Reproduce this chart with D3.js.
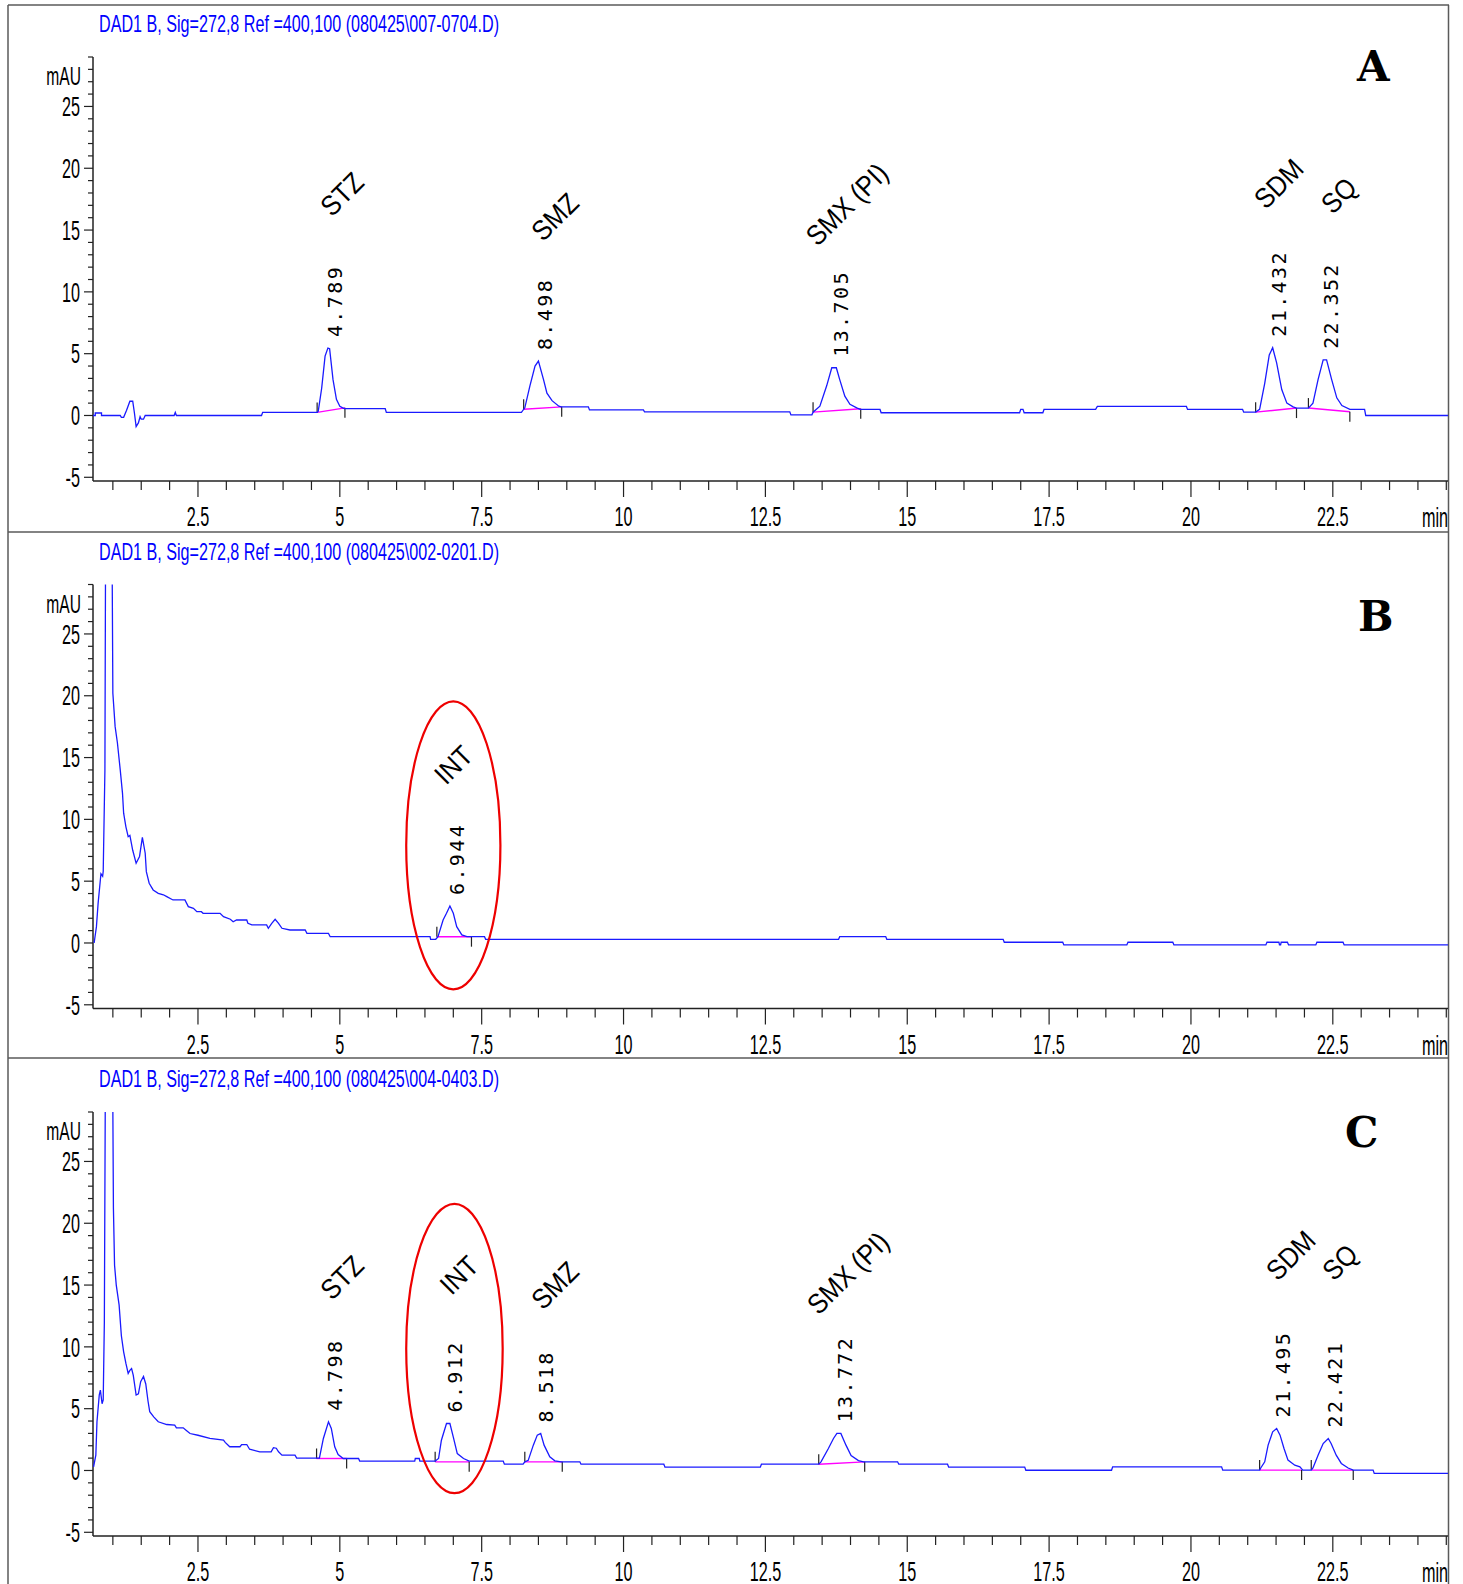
<!DOCTYPE html>
<html>
<head>
<meta charset="utf-8">
<script src="https://cdn.jsdelivr.net/npm/d3@7"></script>
<style>
  body { margin: 0; background: #fff; }
  svg { display: block; }
</style>
</head>
<body>
<div id="chart"></div>
<script>
// ---- data (time in min, signal in mAU) ----
const titles = [
    "DAD1 B, Sig=272,8 Ref =400,100 (080425\\007-0704.D)",
    "DAD1 B, Sig=272,8 Ref =400,100 (080425\\002-0201.D)",
    "DAD1 B, Sig=272,8 Ref =400,100 (080425\\004-0403.D)"
];
const panelLetters = ["A", "B", "C"];
const xTickValues = [2.5, 5, 7.5, 10, 12.5, 15, 17.5, 20, 22.5];
const yTickValues = [-5, 0, 5, 10, 15, 20, 25];

const traceA = [
    [0.65,0],[0.69,0],[0.69,0.2],[0.80,0.2],[0.80,0],[1.13,0],[1.15,-0.15],[1.19,-0.15],[1.24,0.4],
    [1.30,1.15],[1.35,1.15],[1.38,0.2],[1.41,-0.9],[1.45,-0.6],[1.48,-0.1],[1.50,-0.3],[1.54,-0.3],
    [1.57,0],[2.08,0],[2.10,0.25],[2.12,0],[3.62,0],[3.64,0.25],[4.60,0.25],[4.62,0.35],[4.68,2.2],
    [4.74,4.8],[4.79,5.45],[4.82,5.4],[4.88,2.9],[4.94,1.3],[5.00,0.75],[5.05,0.62],[5.08,0.55],
    [5.80,0.55],[5.82,0.25],[8.20,0.25],[8.26,0.62],[8.35,2.4],[8.44,4.0],[8.50,4.4],[8.59,2.9],
    [8.65,1.8],[8.74,1.2],[8.86,0.75],[8.90,0.7],[9.38,0.7],[9.40,0.45],[10.35,0.45],[10.37,0.3],
    [12.93,0.3],[12.95,0.05],[13.32,0.05],[13.34,0.27],[13.46,0.75],[13.58,2.4],[13.67,3.86],
    [13.75,3.86],[13.81,2.9],[13.90,1.56],[13.99,0.9],[14.11,0.62],[14.17,0.49],[14.52,0.49],
    [14.54,0.22],[16.98,0.22],[17.00,0.5],[17.04,0.5],[17.06,0.22],[17.39,0.22],[17.41,0.49],
    [18.32,0.49],[18.35,0.73],[19.92,0.73],[19.94,0.49],[20.91,0.49],[20.93,0.27],[21.14,0.27],
    [21.21,0.5],[21.30,2.6],[21.38,4.9],[21.44,5.48],[21.51,4.26],[21.60,2.1],[21.69,1.0],
    [21.80,0.7],[21.86,0.6],[22.07,0.6],[22.15,1.0],[22.24,2.9],[22.33,4.5],[22.39,4.5],
    [22.48,2.9],[22.57,1.43],[22.66,0.8],[22.80,0.49],[23.06,0.49],[23.08,0],[24.53,0]
];
const traceB = [
    [0.67,0],[0.71,1.3],[0.74,3.2],[0.79,5.6],[0.82,5.4],[0.83,5.8],[0.86,14],[0.88,45],[0.97,45],
    [1.00,20.2],[1.04,17.5],[1.08,16.2],[1.13,14.0],[1.17,12.1],[1.19,10.5],[1.23,9.4],[1.27,8.6],
    [1.30,8.7],[1.35,7.5],[1.41,6.45],[1.47,7.0],[1.52,8.55],[1.57,7.26],[1.59,5.77],[1.64,4.83],
    [1.71,4.29],[1.80,4.02],[1.89,3.9],[1.95,3.75],[2.06,3.48],[2.27,3.48],[2.33,2.94],[2.42,2.8],
    [2.48,2.53],[2.56,2.53],[2.59,2.4],[2.89,2.4],[2.95,2.13],[3.07,1.92],[3.12,1.72],[3.18,1.86],
    [3.36,1.86],[3.38,1.59],[3.45,1.46],[3.71,1.46],[3.74,1.19],[3.80,1.59],[3.86,1.92],[3.92,1.59],
    [3.98,1.19],[4.12,1.05],[4.39,1.05],[4.42,0.78],[4.80,0.78],[4.83,0.51],[6.59,0.51],[6.60,0.3],
    [6.69,0.3],[6.73,0.51],[6.82,1.86],[6.88,2.4],[6.94,2.99],[7.00,2.4],[7.06,1.32],[7.15,0.65],
    [7.24,0.51],[7.55,0.51],[7.57,0.3],[13.79,0.3],[13.81,0.52],[14.62,0.52],[14.64,0.3],
    [16.69,0.3],[16.71,0.06],[17.74,0.06],[17.76,-0.16],[18.87,-0.16],[18.89,0.06],[19.68,0.06],
    [19.70,-0.16],[21.32,-0.16],[21.34,0.06],[21.55,0.06],[21.56,-0.16],[21.58,-0.16],[21.59,0.06],
    [21.70,0.06],[21.72,-0.16],[22.20,-0.16],[22.22,0.06],[22.68,0.06],[22.70,-0.16],[24.53,-0.16]
];
const traceC = [
    [0.66,0.3],[0.70,1.24],[0.72,3.94],[0.76,6.1],[0.78,6.5],[0.81,5.4],[0.83,5.7],[0.85,12],
    [0.88,45],[0.98,45],[1.01,21.2],[1.03,16.6],[1.06,15.0],[1.11,13.4],[1.15,10.9],[1.19,9.6],
    [1.23,8.66],[1.27,7.85],[1.30,8.1],[1.33,8.25],[1.36,7.7],[1.41,6.1],[1.45,6.2],[1.49,7.18],
    [1.54,7.6],[1.58,7.0],[1.62,5.6],[1.65,4.75],[1.72,4.34],[1.80,3.94],[1.95,3.72],[2.09,3.67],
    [2.12,3.45],[2.24,3.45],[2.29,3.26],[2.36,2.99],[2.50,2.85],[2.71,2.59],[2.95,2.45],[2.98,2.27],
    [3.06,1.92],[3.24,1.92],[3.27,2.1],[3.36,2.1],[3.41,1.72],[3.59,1.51],[3.79,1.51],[3.83,1.85],
    [3.88,1.8],[3.92,1.51],[3.98,1.24],[4.21,1.24],[4.24,1.0],[4.64,1.0],[4.71,2.59],[4.80,3.94],
    [4.85,3.4],[4.91,1.92],[4.97,1.29],[5.06,0.97],[5.33,0.97],[5.35,0.76],[6.32,0.76],[6.33,0.97],
    [6.40,0.97],[6.41,0.76],[6.68,0.76],[6.74,0.97],[6.79,2.45],[6.88,3.8],[6.94,3.8],[7.00,2.7],
    [7.07,1.37],[7.18,0.97],[7.28,0.76],[7.88,0.76],[7.90,0.51],[8.23,0.51],[8.26,0.7],[8.32,0.82],
    [8.41,2.05],[8.48,2.86],[8.54,3.0],[8.60,2.05],[8.70,1.1],[8.79,0.78],[8.90,0.7],[9.23,0.7],
    [9.25,0.51],[10.71,0.51],[10.73,0.27],[12.41,0.27],[12.43,0.51],[13.44,0.51],[13.48,0.7],
    [13.61,1.78],[13.70,2.59],[13.76,3.0],[13.83,3.0],[13.92,2.05],[14.01,1.2],[14.14,0.8],
    [14.23,0.7],[14.83,0.7],[14.85,0.51],[15.71,0.51],[15.73,0.27],[17.07,0.27],[17.09,0.02],
    [18.60,0.02],[18.62,0.3],[20.54,0.3],[20.56,0.03],[21.21,0.03],[21.23,0.2],[21.30,0.7],
    [21.36,2.05],[21.44,3.13],[21.51,3.4],[21.57,2.86],[21.64,1.78],[21.71,0.84],[21.83,0.43],
    [21.92,0.3],[21.97,0.03],[22.12,0.03],[22.15,0.2],[22.24,1.24],[22.33,2.18],[22.42,2.59],
    [22.47,2.18],[22.56,1.24],[22.65,0.57],[22.77,0.2],[22.86,0.03],[23.21,0.03],[23.23,-0.24],
    [24.53,-0.24]
];

// compound names, retention times, apex heights, name anchors [min, mAU], integration [t0,v0,t1,v1]
const namesA = ["STZ", "SMZ", "SMX (PI)", "SDM", "SQ"];
const rtA = ["4.789", "8.498", "13.705", "21.432", "22.352"];
const apexA = [5.45, 4.4, 3.86, 5.48, 4.5];
const nameAtA = [[4.86, 16.0], [8.58, 14.0], [13.42, 13.6], [21.32, 16.6], [22.50, 16.2]];
const integA = [[4.60,0.25,5.09,0.62],[8.24,0.5,8.91,0.7],[13.34,0.27,14.18,0.55],[21.14,0.27,21.86,0.6],[22.07,0.6,22.80,0.3]];

const namesB = ["INT"];
const rtB = ["6.944"];
const apexB = [2.99];
const nameAtB = [[6.87, 12.7]];
const integB = [[6.71,0.51,7.32,0.51]];

const namesC = ["STZ", "INT", "SMZ", "SMX (PI)", "SDM", "SQ"];
const rtC = ["4.798", "6.912", "8.518", "13.772", "21.495", "22.421"];
const apexC = [3.94, 3.8, 3.0, 3.0, 3.4, 2.59];
const nameAtC = [[4.86, 13.7], [6.97, 14.1], [8.58, 12.9], [13.44, 12.5], [21.53, 15.25], [22.52, 15.25]];
const integC = [[4.59,0.97,5.12,0.97],[6.68,0.7,7.28,0.7],[8.26,0.7,8.92,0.7],[13.44,0.51,14.25,0.7],[21.21,0.03,21.95,0.03],[22.12,0.03,22.86,0.03]];

// circled peak: [centre min, centre mAU, radius min, radius mAU]
const ellipseB = [7.0, 7.9, 0.83, 11.65];
const ellipseC = [7.02, 9.87, 0.85, 11.7];

// ---- drawing ----
const W = 1463, H = 1584;
const panelStep = 527.5;
const svg = d3.select("#chart").append("svg")
    .attr("width", W).attr("height", H);
svg.append("rect").attr("width", W).attr("height", H).attr("fill", "#fff");

const x = d3.scaleLinear().domain([0.65, 24.53]).range([93, 1448]);

const panels = [
    { trace: traceA, names: namesA, rt: rtA, apex: apexA, nameAt: nameAtA, integ: integA, ellipse: null, letterPos: [1357, 81] },
    { trace: traceB, names: namesB, rt: rtB, apex: apexB, nameAt: nameAtB, integ: integB, ellipse: ellipseB, letterPos: [1358, 631] },
    { trace: traceC, names: namesC, rt: rtC, apex: apexC, nameAt: nameAtC, integ: integC, ellipse: ellipseC, letterPos: [1345, 1147] }
];

const narrow = "'Liberation Sans', Arial, sans-serif";

// outer frame and separators
const frame = svg.append("g").attr("stroke", "#5a5a5a").attr("stroke-width", 1.5);
frame.append("line").attr("x1", 8).attr("x2", 8).attr("y1", 5).attr("y2", H);
frame.append("line").attr("x1", 1448.5).attr("x2", 1448.5).attr("y1", 5).attr("y2", H);
[5, 532, 1058].forEach(yy => {
    frame.append("line").attr("x1", 8).attr("x2", 1449).attr("y1", yy).attr("y2", yy);
});

panels.forEach((p, i) => {
    const off = i * panelStep;
    const y = d3.scaleLinear().domain([-5.3, 29]).range([481 + off, 57 + off]);
    const g = svg.append("g");

    // title
    g.append("text")
        .attr("x", 99).attr("y", 32 + off)
        .attr("textLength", 400).attr("lengthAdjust", "spacingAndGlyphs")
        .style("font-family", narrow).style("font-size", "24px")
        .attr("fill", "#0000ff")
        .text(titles[i]);

    // panel letter
    g.append("text")
        .attr("x", p.letterPos[0]).attr("y", p.letterPos[1])
        .style("font-family", "'DejaVu Serif', serif").style("font-weight", "bold")
        .style("font-size", "42px")
        .text(panelLetters[i]);

    // y axis
    const yMinor = d3.range(-5, 30, 1);
    g.append("line").attr("x1", 93).attr("x2", 93)
        .attr("y1", y(29)).attr("y2", y(-5.3))
        .attr("stroke", "#222").attr("stroke-width", 1.5);
    g.selectAll(".ytick").data(yMinor).enter().append("line")
        .attr("x1", d => yTickValues.includes(d) ? 84 : 88).attr("x2", 93)
        .attr("y1", d => y(d)).attr("y2", d => y(d))
        .attr("stroke", "#222").attr("stroke-width", 1.2);
    g.selectAll(".ylab").data(yTickValues).enter().append("text")
        .attr("transform", d => `translate(80,${y(d)}) scale(0.6,1)`)
        .attr("dy", "0.36em")
        .attr("text-anchor", "end")
        .style("font-family", narrow).style("font-size", "27px")
        .text(d => d);
    g.append("text")
        .attr("transform", `translate(81,${85 + off}) scale(0.6,1)`)
        .attr("text-anchor", "end")
        .style("font-family", narrow).style("font-size", "26px")
        .text("mAU");

    // x axis
    const xMinor = d3.range(1, 24.51, 0.5);
    const axisY = y(-5.3);
    g.append("line").attr("x1", 93).attr("x2", 1448)
        .attr("y1", axisY).attr("y2", axisY)
        .attr("stroke", "#222").attr("stroke-width", 1.5);
    g.selectAll(".xtick").data(xMinor).enter().append("line")
        .attr("x1", d => x(d)).attr("x2", d => x(d))
        .attr("y1", axisY).attr("y2", d => axisY + (xTickValues.includes(d) ? 16 : 9))
        .attr("stroke", "#222").attr("stroke-width", 1.2);
    g.selectAll(".xlab").data(xTickValues).enter().append("text")
        .attr("transform", d => `translate(${x(d)},${axisY + 45}) scale(0.6,1)`)
        .attr("text-anchor", "middle")
        .style("font-family", narrow).style("font-size", "27px")
        .text(d => d);
    g.append("text")
        .attr("transform", `translate(1448,${axisY + 46}) scale(0.6,1)`)
        .attr("text-anchor", "end")
        .style("font-family", narrow).style("font-size", "27px")
        .text("min");

    // clip for trace
    const clipId = "clip" + i;
    svg.append("clipPath").attr("id", clipId).append("rect")
        .attr("x", 93).attr("y", y(29)).attr("width", 1448 - 93).attr("height", y(-5.3) - y(29));

    // integration baselines
    g.selectAll(".base").data(p.integ).enter().append("line")
        .attr("x1", d => x(d[0])).attr("y1", d => y(d[1]))
        .attr("x2", d => x(d[2])).attr("y2", d => y(d[3]))
        .attr("stroke", "#ff00ff").attr("stroke-width", 1.4);
    g.selectAll(".tstart").data(p.integ).enter().append("line")
        .attr("x1", d => x(d[0])).attr("x2", d => x(d[0]))
        .attr("y1", d => y(d[1])).attr("y2", d => y(d[1]) - 10)
        .attr("stroke", "#222").attr("stroke-width", 1.2);
    g.selectAll(".tend").data(p.integ).enter().append("line")
        .attr("x1", d => x(d[2])).attr("x2", d => x(d[2]))
        .attr("y1", d => y(d[3])).attr("y2", d => y(d[3]) + 10)
        .attr("stroke", "#222").attr("stroke-width", 1.2);

    // trace
    const line = d3.line().x(d => x(d[0])).y(d => y(d[1]));
    g.append("path")
        .attr("clip-path", `url(#${clipId})`)
        .attr("d", line(p.trace))
        .attr("fill", "none").attr("stroke", "#1a1aff").attr("stroke-width", 1.3);

    // retention time labels
    g.selectAll(".rt").data(p.rt).enter().append("text")
        .attr("transform", (d, j) => `translate(${x(+d) + 14},${y(p.apex[j]) - 11}) rotate(-90)`)
        .style("font-family", "'DejaVu Sans Mono', monospace").style("font-size", "20px")
        .style("letter-spacing", "2.4px")
        .text(d => d);

    // compound names
    g.selectAll(".nm").data(p.names).enter().append("text")
        .attr("transform", (d, j) => `translate(${x(p.nameAt[j][0])},${y(p.nameAt[j][1])}) rotate(-45) scale(0.9,1)`)
        .style("font-family", narrow).style("font-size", "28px")
        .text(d => d);

    // red ellipse around the internal standard
    if (p.ellipse) {
        const e = p.ellipse;
        g.append("ellipse")
            .attr("cx", x(e[0])).attr("cy", y(e[1]))
            .attr("rx", x(e[0] + e[2]) - x(e[0]))
            .attr("ry", y(e[1] - e[3]) - y(e[1]))
            .attr("fill", "none").attr("stroke", "#ee0000").attr("stroke-width", 2.2);
    }
});
</script>
</body>
</html>
